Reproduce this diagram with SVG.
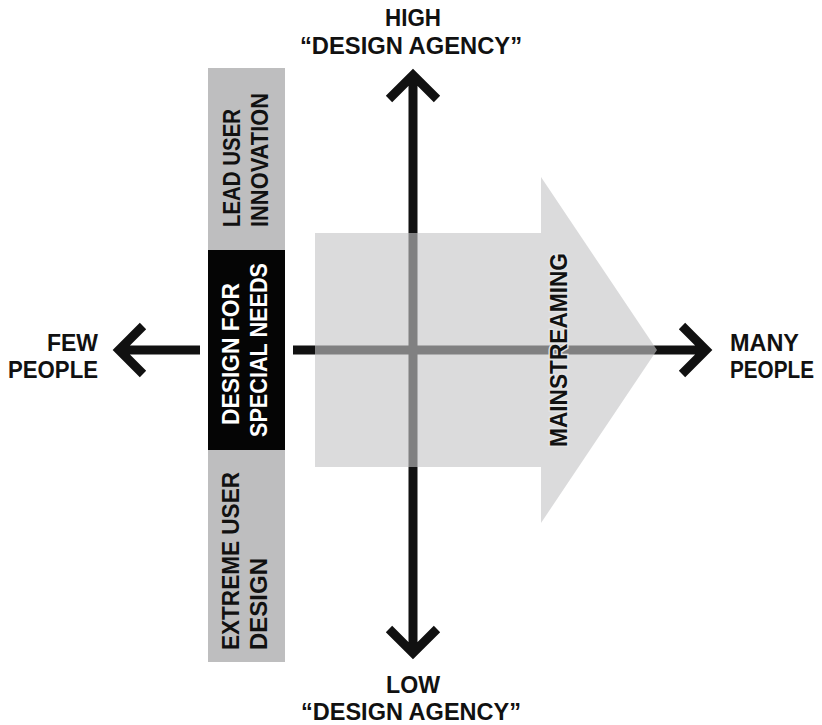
<svg xmlns="http://www.w3.org/2000/svg" width="822" height="725" viewBox="0 0 822 725">
<style>
.t{font-family:"Liberation Sans",Arial,sans-serif;font-weight:bold;font-size:23px;fill:#111}
.w{fill:#fff}
.ax{fill:none;stroke:#111;stroke-width:9;stroke-linejoin:miter;stroke-linecap:butt}
</style>
<rect width="822" height="725" fill="#fff"/>
<g id="connectors">
<path class="ax" d="M413 75 V653 M389 99 L413 75 L437 99 M389 629 L413 653 L437 629"/>
<path class="ax" d="M119 350 H200 M143 326 L119 350 L143 374"/>
<path class="ax" d="M293 350 H706 M682 326 L706 350 L682 374"/>
</g>
<g id="lead-user">
<rect x="208" y="68" width="77" height="182" fill="#bebebf"/>
<text class="t" transform="translate(240,227) rotate(-90)" textLength="118" lengthAdjust="spacingAndGlyphs">LEAD USER</text>
<text class="t" transform="translate(268,227) rotate(-90)" textLength="134" lengthAdjust="spacingAndGlyphs">INNOVATION</text>
</g>
<g id="special-needs">
<rect x="208" y="250" width="77" height="200" fill="#050505"/>
<text class="t w" transform="translate(239,354) rotate(-90)" text-anchor="middle" textLength="142" lengthAdjust="spacingAndGlyphs">DESIGN FOR</text>
<text class="t w" transform="translate(267,350) rotate(-90)" text-anchor="middle" textLength="174" lengthAdjust="spacingAndGlyphs">SPECIAL NEEDS</text>
</g>
<g id="extreme-user">
<rect x="208" y="450" width="77" height="212" fill="#bebebf"/>
<text class="t" transform="translate(239,650) rotate(-90)" textLength="178" lengthAdjust="spacingAndGlyphs">EXTREME USER</text>
<text class="t" transform="translate(267,650) rotate(-90)" textLength="92" lengthAdjust="spacingAndGlyphs">DESIGN</text>
</g>
<g id="mainstreaming">
<polygon points="315,233 541,233 541,177 657,350 541,523 541,467 315,467" fill="#c5c5c7" fill-opacity="0.62"/>
<text class="t" transform="translate(567,350) rotate(-90)" text-anchor="middle" textLength="194" lengthAdjust="spacingAndGlyphs" stroke="#e4e4e4" stroke-width="3" paint-order="stroke">MAINSTREAMING</text>
</g>
<g id="high">
<text class="t" x="413" y="26" text-anchor="middle" textLength="56" lengthAdjust="spacingAndGlyphs">HIGH</text>
<text class="t" x="411" y="54" text-anchor="middle" textLength="222" lengthAdjust="spacingAndGlyphs">“DESIGN AGENCY”</text>
</g>
<g id="low">
<text class="t" x="413" y="693" text-anchor="middle" textLength="54" lengthAdjust="spacingAndGlyphs">LOW</text>
<text class="t" x="411" y="720" text-anchor="middle" textLength="220" lengthAdjust="spacingAndGlyphs">“DESIGN AGENCY”</text>
</g>
<g id="few">
<text class="t" x="98" y="351" text-anchor="end" textLength="51" lengthAdjust="spacingAndGlyphs">FEW</text>
<text class="t" x="98" y="378" text-anchor="end" textLength="90" lengthAdjust="spacingAndGlyphs">PEOPLE</text>
</g>
<g id="many">
<text class="t" x="730" y="351" textLength="69" lengthAdjust="spacingAndGlyphs">MANY</text>
<text class="t" x="730" y="378" textLength="84" lengthAdjust="spacingAndGlyphs">PEOPLE</text>
</g>
</svg>
